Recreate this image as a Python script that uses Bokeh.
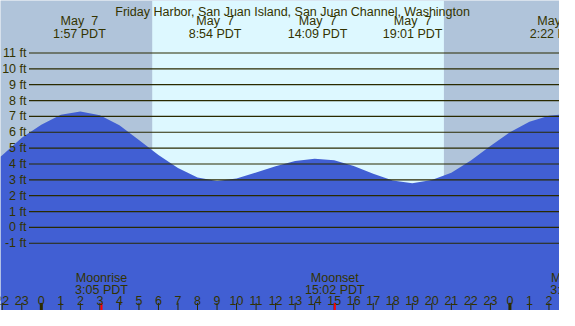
from bokeh.plotting import figure
from bokeh.models import Range1d
from bokeh.embed import file_html
from bokeh.resources import INLINE
from bokeh.core.properties import value

# ---------------- data ----------------
title = "Friday Harbor, San Juan Island, San Juan Channel, Washington"

# hours after midnight of May 7 (PDT) and water level in ft
hours = [-2.09, -2, -1, 0, 1, 2, 3, 4, 5, 6, 7, 8, 9, 10, 11, 12, 13, 14,
         15, 16, 17, 18, 19, 20, 21, 22, 23, 24, 25, 26, 26.54]
tide_ft = [4.46, 4.55, 5.65, 6.47, 7.10, 7.31, 7.08, 6.45, 5.52, 4.56, 3.74,
           3.14, 2.92, 3.08, 3.46, 3.86, 4.19, 4.33, 4.24, 3.87, 3.38, 2.96,
           2.78, 2.99, 3.45, 4.22, 5.14, 6.00, 6.66, 7.04, 7.11]

# high / low tide events (double space kept with a no-break space)
event_hours = [1.95, 8.9, 14.15, 19.017, 26.367]
event_dates = ["May \u00a07", "May \u00a07", "May \u00a07", "May \u00a07", "May \u00a08"]
event_times = ["1:57 PDT", "8:54 PDT", "14:09 PDT", "19:01 PDT", "2:22 PDT"]

# sun
sunrise_h = 5.68
sunset_h = 20.62

# moon
moon_hours = [3.083, 15.033, 27.42]
moon_names = ["Moonrise", "Moonset", "Moonrise"]
moon_times = ["3:05 PDT", "15:02 PDT", "3:25 PDT"]

# feet levels
ft_levels = [-1, 0, 1, 2, 3, 4, 5, 6, 7, 8, 9, 10, 11]
ft_labels = ["-1 ft", "0 ft", "1 ft", "2 ft", "3 ft", "4 ft", "5 ft", "6 ft",
             "7 ft", "8 ft", "9 ft", "10 ft", "11 ft"]

# hour ticks
tick_hours = [-2, -1, 0, 1, 2, 3, 4, 5, 6, 7, 8, 9, 10, 11, 12, 13, 14, 15,
              16, 17, 18, 19, 20, 21, 22, 23, 24, 25, 26]
tick_labels = ["22", "23", "0", "1", "2", "3", "4", "5", "6", "7", "8", "9",
               "10", "11", "12", "13", "14", "15", "16", "17", "18", "19",
               "20", "21", "22", "23", "0", "1", "2"]
midnights = [0, 24]

# ---------------- layout ----------------
W, H = 559, 310
X0, X1 = -2.09, 26.54
Y_BOT, Y_TOP = -5.24, 14.31
REF_H = 326.0

def row(r):
    """vertical position given as a row of the 326-px design"""
    return Y_TOP - r * (Y_TOP - Y_BOT) / REF_H

NIGHT = "#b0c4da"
DAY = "#ddf8ff"
WATER = "#415fd3"
INK = "#333300"
LINE = "#2a2a00"
FONT = value("Liberation Sans")
FS = "12.5px"

p = figure(width=W, height=H, x_range=Range1d(X0, X1), y_range=Range1d(Y_BOT, Y_TOP),
           output_backend="svg", toolbar_location=None, min_border=0)
p.axis.visible = False
p.grid.visible = False
p.outline_line_color = None
p.background_fill_color = NIGHT
p.border_fill_color = NIGHT

# daylight
p.quad(left=[sunrise_h], right=[sunset_h], bottom=[Y_BOT], top=[Y_TOP],
       fill_color=DAY, line_color=None)

# water
p.varea(x=hours, y1=[Y_BOT] * len(hours), y2=tide_ft, fill_color=WATER)

# feet lines and labels
p.segment(x0=[-0.63] * len(ft_levels), x1=[X1] * len(ft_levels),
          y0=ft_levels, y1=ft_levels, line_color=LINE, line_width=1.2)
p.text(x=[-0.76] * len(ft_levels), y=ft_levels, text=ft_labels,
       text_font=FONT, text_font_size=FS, text_color=INK,
       text_align="right", text_baseline="middle")

# title
p.text(x=[12.87], y=[row(11.7)], text=[title], text_font=FONT,
       text_font_size=FS, text_color=INK, text_align="center",
       text_baseline="alphabetic")

# tide events
p.text(x=event_hours, y=[row(22)] * len(event_hours), text=event_dates,
       text_font=FONT, text_font_size=FS, text_color=INK,
       text_align="center", text_baseline="alphabetic")
p.text(x=event_hours, y=[row(35.7)] * len(event_hours), text=event_times,
       text_font=FONT, text_font_size=FS, text_color=INK,
       text_align="center", text_baseline="alphabetic")

# moon events
p.text(x=moon_hours, y=[row(291.7)] * len(moon_hours), text=moon_names,
       text_font=FONT, text_font_size=FS, text_color=INK,
       text_align="center", text_baseline="alphabetic")
p.text(x=moon_hours, y=[row(304.3)] * len(moon_hours), text=moon_times,
       text_font=FONT, text_font_size=FS, text_color=INK,
       text_align="center", text_baseline="alphabetic")

# hour ticks
p.segment(x0=tick_hours, x1=tick_hours, y0=[row(318)] * len(tick_hours),
          y1=[Y_BOT] * len(tick_hours), line_color=LINE, line_width=1)
p.segment(x0=midnights, x1=midnights, y0=[row(318)] * len(midnights),
          y1=[Y_BOT] * len(midnights), line_color=LINE, line_width=3)
p.segment(x0=moon_hours, x1=moon_hours, y0=[row(318)] * len(moon_hours),
          y1=[Y_BOT] * len(moon_hours), line_color="#ff0000", line_width=2)
p.text(x=tick_hours, y=[row(316)] * len(tick_hours), text=tick_labels,
       text_font=FONT, text_font_size=FS, text_color=INK,
       text_align="center", text_baseline="alphabetic")

open("out.html", "w").write(file_html(p, INLINE))
